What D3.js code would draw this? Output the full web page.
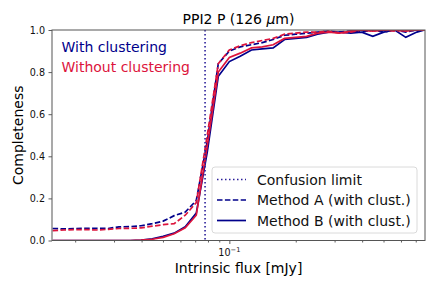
<!DOCTYPE html>
<html>
<head>
<meta charset="utf-8">
<script src="https://cdn.jsdelivr.net/npm/d3@7"></script>
<style>
  body { margin: 0; background: #fff; }
  text { font-family: "DejaVu Sans", sans-serif; }
</style>
</head>
<body>
<div id="chart"></div>
<script>
// flux bins [mJy] (log spaced)
var flux = [0.0158, 0.0178, 0.0200, 0.0224, 0.0251, 0.0282, 0.0316, 0.0355, 0.0398, 0.0447,
            0.0501, 0.0562, 0.0631, 0.0708, 0.0794, 0.0891, 0.100, 0.112, 0.126, 0.141,
            0.158, 0.178, 0.200, 0.224, 0.251, 0.282, 0.316, 0.355, 0.398, 0.447,
            0.501, 0.562, 0.631, 0.708, 0.767];

// completeness, method A / B, with and without clustering
var methodAWith = [0.057, 0.055, 0.057, 0.058, 0.058, 0.057, 0.065, 0.066, 0.070, 0.080,
                   0.092, 0.118, 0.135, 0.19, 0.47, 0.84, 0.90, 0.92, 0.93, 0.94,
                   0.955, 0.975, 0.98, 0.985, 0.99, 0.995, 0.99, 0.995, 0.99, 1.0,
                   0.99, 1.0, 0.99, 1.0, 1.0];
var methodBWith = [0, 0, 0, 0, 0, 0, 0, 0, 0.002, 0.008,
                   0.02, 0.035, 0.065, 0.13, 0.42, 0.78, 0.85, 0.875, 0.905, 0.91,
                   0.915, 0.955, 0.96, 0.965, 0.98, 0.99, 0.99, 0.985, 0.99, 0.97,
                   0.99, 1.0, 0.965, 0.99, 1.0];
var methodAWithout = [0.047, 0.050, 0.052, 0.052, 0.050, 0.053, 0.057, 0.058, 0.060, 0.068,
                      0.075, 0.080, 0.12, 0.18, 0.50, 0.84, 0.905, 0.925, 0.94, 0.95,
                      0.96, 0.98, 0.985, 0.99, 0.99, 0.995, 0.985, 0.99, 1.0, 0.995,
                      1.0, 0.995, 1.0, 1.0, 1.0];
var methodBWithout = [0, 0, 0, 0, 0, 0, 0, 0, 0.002, 0.006,
                      0.015, 0.032, 0.06, 0.12, 0.45, 0.80, 0.87, 0.89, 0.915, 0.92,
                      0.93, 0.96, 0.965, 0.97, 0.985, 0.99, 0.985, 0.995, 1.0, 0.995,
                      1.0, 1.0, 0.995, 1.0, 1.0];

var confusionLimit = 0.0776;
var yTicks = [0, 0.2, 0.4, 0.6, 0.8, 1.0];
var xMajor = [0.1];
var xMinor = [0.02, 0.03, 0.04, 0.05, 0.06, 0.07, 0.08, 0.09, 0.2, 0.3, 0.4, 0.5, 0.6, 0.7];

var navy = "#00008b";
var crimson = "#dc143c";

var W = 436, H = 291;
var margin = {top: 30, right: 11, bottom: 50.5, left: 52};
var width = W - margin.left - margin.right;
var height = H - margin.top - margin.bottom;

var svg = d3.select("#chart").append("svg")
    .attr("width", W)
    .attr("height", H);

var g = svg.append("g")
    .attr("transform", "translate(" + margin.left + "," + margin.top + ")");

var x = d3.scaleLog().domain([0.0157, 0.771]).range([0, width]);
var y = d3.scaleLinear().domain([0, 1]).range([height, 0]);

g.append("clipPath").attr("id", "clip")
  .append("rect").attr("width", width).attr("height", height);

var plot = g.append("g").attr("clip-path", "url(#clip)");

var line = function(vals) {
  return d3.line()
    .x(function(d, i) { return x(flux[i]); })
    .y(function(d) { return y(d); })(vals);
};

var series = [
  {vals: methodAWith, color: navy, dash: "5.5,2.4"},
  {vals: methodBWith, color: navy, dash: null},
  {vals: methodAWithout, color: crimson, dash: "5.5,2.4"},
  {vals: methodBWithout, color: crimson, dash: null}
];

series.forEach(function(s) {
  plot.append("path")
    .attr("d", line(s.vals))
    .attr("fill", "none")
    .attr("stroke", s.color)
    .attr("stroke-width", 1.7)
    .attr("stroke-dasharray", s.dash);
});

// confusion limit
plot.append("line")
  .attr("x1", x(confusionLimit)).attr("x2", x(confusionLimit))
  .attr("y1", 0).attr("y2", height)
  .attr("stroke", "#2b1f99")
  .attr("stroke-width", 1.6)
  .attr("stroke-dasharray", "1.5,2.5");

// axes
var yAxis = g.append("g")
  .call(d3.axisLeft(y).tickValues(yTicks).tickFormat(d3.format(".1f")).tickSize(3.5).tickPadding(3.5));

g.append("g")
  .attr("transform", "translate(0," + height + ")")
  .call(d3.axisBottom(x).tickValues(xMajor).tickFormat("").tickSize(3.5));

g.append("g")
  .attr("transform", "translate(0," + height + ")")
  .call(d3.axisBottom(x).tickValues(xMinor).tickFormat("").tickSize(2));

g.selectAll(".domain").remove();
g.selectAll(".tick line").attr("stroke", "#333").attr("stroke-width", 0.8);
yAxis.selectAll("text").attr("font-size", "9.6px").attr("fill", "#111");

// 10^-1 label
var lab = g.append("text")
  .attr("x", x(0.1))
  .attr("y", height + 15)
  .attr("text-anchor", "middle")
  .attr("font-size", "9.6px")
  .attr("fill", "#111");
lab.append("tspan").text("10");
lab.append("tspan").attr("dy", -4).attr("font-size", "6.7px").text("\u22121");

// frame
g.append("rect")
  .attr("width", width).attr("height", height)
  .attr("fill", "none")
  .attr("stroke", "#555")
  .attr("stroke-width", 1);

// titles
svg.append("text")
  .attr("x", margin.left + width / 2).attr("y", 24)
  .attr("text-anchor", "middle")
  .attr("font-size", "14px")
  .html("PPI2 P (126 <tspan font-style='italic'>\u03bc</tspan>m)");

svg.append("text")
  .attr("x", margin.left + width / 2).attr("y", 272.5)
  .attr("text-anchor", "middle")
  .attr("font-size", "14px")
  .text("Intrinsic flux [mJy]");

svg.append("text")
  .attr("transform", "translate(23," + (margin.top + height / 2) + ") rotate(-90)")
  .attr("text-anchor", "middle")
  .attr("font-size", "14px")
  .text("Completeness");

// annotations
g.append("text").attr("x", 9.5).attr("y", 21.5)
  .attr("font-size", "14px").attr("fill", navy)
  .text("With clustering");
g.append("text").attr("x", 9.5).attr("y", 42)
  .attr("font-size", "14px").attr("fill", crimson)
  .text("Without clustering");

// legend
var legendItems = [
  {label: "Confusion limit", color: "#2b1f99", dash: "1.5,2.5"},
  {label: "Method A (with clust.)", color: navy, dash: "5.5,2.4"},
  {label: "Method B (with clust.)", color: navy, dash: null}
];

var legend = svg.append("g").attr("transform", "translate(212,167)");
legend.append("rect")
  .attr("width", 205).attr("height", 66)
  .attr("rx", 3)
  .attr("fill", "#fff").attr("fill-opacity", 0.8)
  .attr("stroke", "#d0d0d0").attr("stroke-width", 0.8);

legendItems.forEach(function(d, i) {
  var yy = 12.5 + i * 20.5;
  legend.append("line")
    .attr("x1", 5).attr("x2", 34)
    .attr("y1", yy).attr("y2", yy)
    .attr("stroke", d.color)
    .attr("stroke-width", 1.7)
    .attr("stroke-dasharray", d.dash);
  legend.append("text")
    .attr("x", 45).attr("y", yy + 5)
    .attr("font-size", "14px")
    .attr("fill", "#111")
    .text(d.label);
});
</script>
</body>
</html>
